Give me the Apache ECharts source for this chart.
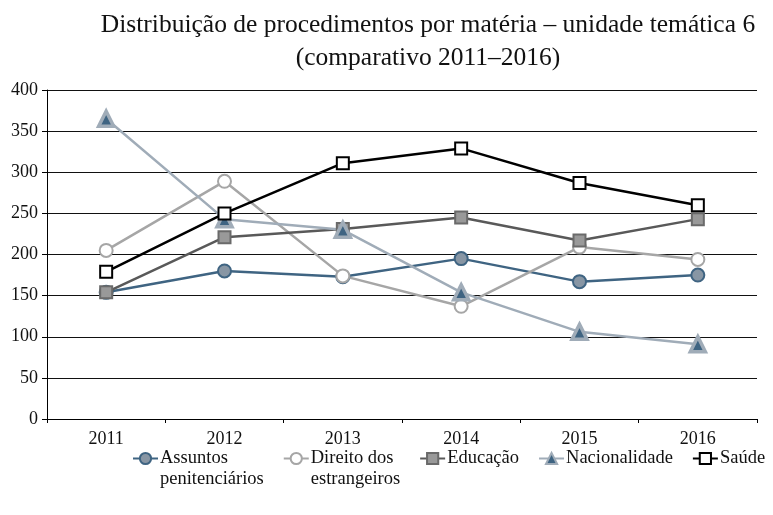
<!DOCTYPE html>
<html>
<head>
<meta charset="utf-8">
<script src="https://cdn.jsdelivr.net/npm/echarts@6/dist/echarts.min.js"></script>
<style>
  html, body { margin: 0; padding: 0; background: #fff; }
  #main { width: 773px; height: 515px; }
</style>
</head>
<body>
<div id="main"></div>
<script>
var anos = ['2011', '2012', '2013', '2014', '2015', '2016']
var assuntos = [154, 180, 173, 195, 167, 175]
var direito = [205, 289, 174, 137, 209, 194]
var educacao = [154, 221, 231, 245, 217, 243]
var nacionalidade = [365, 243, 230, 154, 106, 91]
var saude = [179, 250, 311, 329, 287, 260]

var fonte = 'Liberation Serif'
var chart = echarts.init(document.getElementById('main'))

// cada série: cor da linha, símbolo, preenchimento e borda do marcador
function serie (nome, dados, cor, simbolo, tamanho, fill, borda, bw) {
  return {
    name: nome,
    type: 'line',
    data: dados,
    symbol: simbolo,
    symbolSize: tamanho,
    showAllSymbol: true,
    lineStyle: { color: cor, width: 2.5 },
    itemStyle: { color: fill, borderColor: borda, borderWidth: bw },
    emphasis: { disabled: true }
  }
}

chart.setOption({
  animation: false,
  title: {
    text: 'Distribuição de procedimentos por matéria – unidade temática 6\n(comparativo 2011–2016)',
    left: 423,
    textAlign: 'center',
    top: 4,
    textStyle: { fontFamily: fonte, fontSize: 25.5, fontWeight: 'normal', color: '#111', lineHeight: 33 }
  },
  legend: {
    left: 127,
    top: 422,
    itemGap: 19,
    itemWidth: 25,
    itemHeight: 14,
    formatter: function (n) {
      if (n === 'Assuntos') return '\u00a0\nAssuntos\npenitenciários'
      if (n === 'Direito dos estrangeiros') return '\u00a0\nDireito dos\nestrangeiros'
      return n
    },
    textStyle: { fontFamily: fonte, fontSize: 18.5, color: '#111', lineHeight: 21, padding: [0, 0, 0, -3] },
    data: ['Assuntos', 'Direito dos estrangeiros', 'Educação', 'Nacionalidade', 'Saúde']
  },
  grid: { left: 47, right: 16, top: 90, bottom: 96 },
  xAxis: {
    type: 'category',
    data: anos,
    axisLine: { lineStyle: { color: '#000', width: 1 } },
    axisTick: { show: true, length: 4, lineStyle: { color: '#000' } },
    axisLabel: { fontFamily: fonte, fontSize: 18, color: '#111', margin: 11 }
  },
  yAxis: {
    type: 'value',
    min: 0,
    max: 400,
    interval: 50,
    axisLine: { show: true, lineStyle: { color: '#000', width: 1 } },
    axisTick: { show: true, length: 5, inside: false, lineStyle: { color: '#000' } },
    axisLabel: { fontFamily: fonte, fontSize: 18, color: '#111', margin: 9 },
    splitLine: { lineStyle: { color: '#111', width: 1 } }
  },
  series: [
    serie('Assuntos', assuntos, '#3f6482', 'circle', 13, '#8896a4', '#3f6482', 2),
    serie('Direito dos estrangeiros', direito, '#a6a6a6', 'circle', 13, '#fff', '#a6a6a6', 2),
    serie('Educação', educacao, '#595959', 'rect', 12, '#999', '#6a6a6a', 2),
    serie('Nacionalidade', nacionalidade, '#a0acb8', 'triangle', 15, '#3f6482', '#a0acb8', 3.5),
    serie('Saúde', saude, '#000', 'rect', 12, '#fff', '#000', 2)
  ]
})
</script>
</body>
</html>
